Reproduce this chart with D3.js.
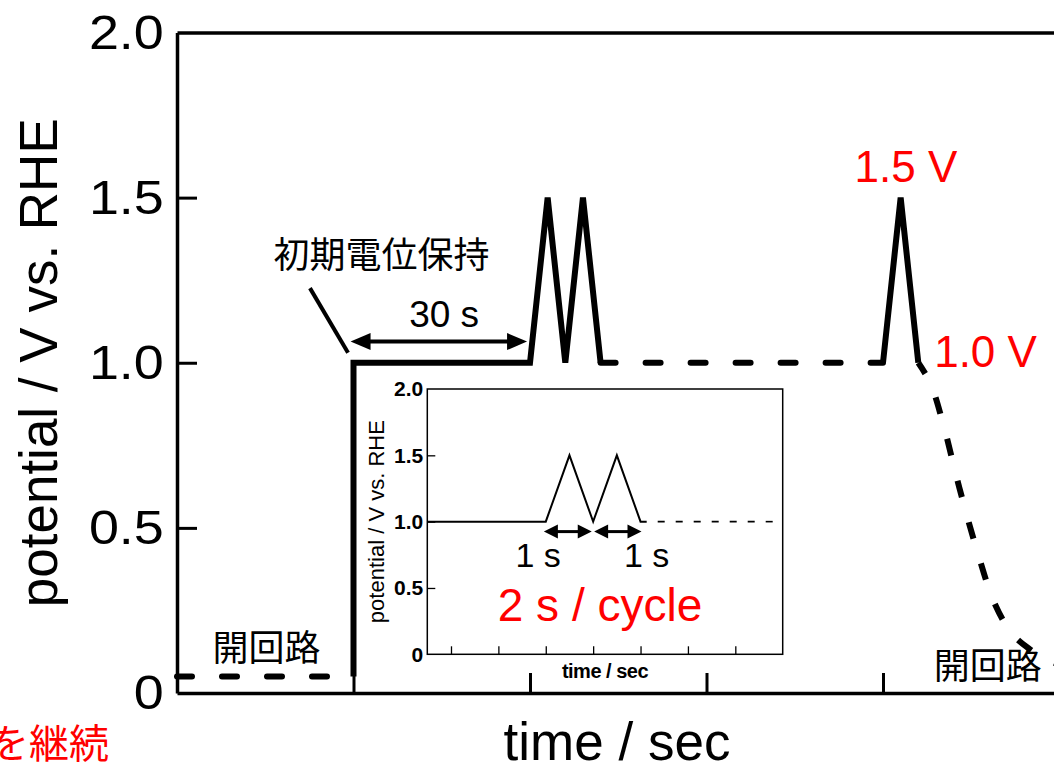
<!DOCTYPE html>
<html><head><meta charset="utf-8">
<script src="https://cdn.jsdelivr.net/npm/d3@7"></script>
<style>body{margin:0;background:#fff;} svg{display:block;}</style>
</head><body><svg id="c" width="1054" height="764"></svg>
<script>
// ---------- data (main chart, time in s, potential in V) ----------
const openCircuitT = [0, 30];
const openCircuitV = [0.05, 0.05];
const holdCycleT = [30, 30, 60, 63, 66, 69, 72];
const holdCycleV = [0.05, 1.0, 1.0, 1.5, 1.0, 1.5, 1.0];
const waitT = [72, 120];
const waitV = [1.0, 1.0];
const pulseT = [120, 123, 126];
const pulseV = [1.0, 1.5, 1.0];
const decayT = [126, 128, 130, 133, 136, 139, 142, 145, 148, 151, 154];
const decayV = [1.0, 0.94, 0.83, 0.62, 0.43, 0.27, 0.178, 0.132, 0.1, 0.08, 0.07];
const mainYTicks = [0, 0.5, 1.0, 1.5, 2.0];
const mainYTickLabels = ["0", "0.5", "1.0", "1.5", "2.0"];
const mainXTicks = [30, 60, 90, 120];

// ---------- data (inset) ----------
const insetSolidT = [-0.5, 2, 2.5, 3, 3.5, 4, 4.13];
const insetSolidV = [1, 1, 1.5, 1, 1.5, 1, 1];
const insetDashT = [4.13, 6.86];
const insetDashV = [1, 1];
const insetYTicks = [0, 0.5, 1.0, 1.5, 2.0];
const insetYTickLabels = ["0", "0.5", "1.0", "1.5", "2.0"];
const insetXTicks = [0, 1, 2, 3, 4, 5, 6];

const LATIN = "'Liberation Sans', Arial, Helvetica, sans-serif";
const CJK = "'Noto Sans CJK JP', 'Noto Sans CJK SC', sans-serif";
const RED = "#ff0000";

const svg = d3.select("#c");
const zip = (a, b) => a.map((d, i) => [d, b[i]]);

// ---------- main scales ----------
const x = d3.scaleLinear().domain([0, 150]).range([177, 1059.5]);
const y = d3.scaleLinear().domain([0, 2]).range([693, 32.5]);

const main = svg.append("g");

// axes
const yAxis = d3.axisLeft(y).tickValues(mainYTicks)
  .tickFormat((d, i) => mainYTickLabels[i])
  .tickSizeInner(-20).tickSizeOuter(0).tickPadding(12);
const gy = main.append("g").attr("transform", `translate(${x(0)},0)`).call(yAxis);
gy.select(".domain").attr("stroke-width", 3.5);
gy.selectAll(".tick line").attr("stroke-width", 3)
  .filter(d => d === 0 || d === 2).remove();
gy.selectAll(".tick text").attr("font-family", LATIN).attr("font-size", 49).attr("fill", "#000")
  .attr("transform", "scale(1.1,1)");

const xAxis = d3.axisBottom(x).tickValues(mainXTicks).tickFormat("")
  .tickSizeInner(-20).tickSizeOuter(0);
const gx = main.append("g").attr("transform", `translate(0,${y(0)})`).call(xAxis);
gx.select(".domain").attr("stroke-width", 3.5);
gx.selectAll(".tick line").attr("stroke-width", 3);

const gt = main.append("g").attr("transform", `translate(0,${y(2)})`)
  .call(d3.axisTop(x).tickValues([]).tickSizeOuter(0));
gt.select(".domain").attr("stroke-width", 3.5);

// axis titles
main.append("text").attr("transform", `translate(57,${y(1)}) rotate(-90)`)
  .attr("text-anchor", "middle").attr("font-family", LATIN).attr("font-size", 53)
  .text("potential / V vs. RHE");
main.append("text").attr("x", 617).attr("y", 760)
  .attr("text-anchor", "middle").attr("font-family", LATIN).attr("font-size", 53)
  .text("time / sec");

// lines
const line = d3.line().x(d => x(d[0])).y(d => y(d[1]));
const curve = d3.line().x(d => x(d[0])).y(d => y(d[1])).curve(d3.curveCatmullRom.alpha(0.5));
const mainLines = main.append("g").attr("fill", "none").attr("stroke", "#000").attr("stroke-width", 6);
mainLines.append("path").attr("d", line(zip(openCircuitT, openCircuitV)))
  .attr("stroke-dasharray", "15,30").attr("stroke-linecap", "round");
mainLines.append("path").attr("d", line(zip(holdCycleT, holdCycleV)))
  .attr("stroke-linejoin", "miter").attr("stroke-miterlimit", 2);
mainLines.append("path").attr("d", line(zip(waitT, waitV)))
  .attr("stroke-dasharray", "15,30").attr("stroke-linecap", "round");
mainLines.append("path").attr("d", line(zip(pulseT, pulseV)))
  .attr("stroke-linejoin", "miter").attr("stroke-miterlimit", 2);
mainLines.append("path").attr("d", curve(zip(decayT, decayV)))
  .attr("stroke-dasharray", "17,26").attr("stroke-dashoffset", 4);

// arrows
function doubleArrow(g, x1, x2, yy, headLen, headHalf, sw) {
  g.append("line").attr("x1", x1 + headLen * 0.7).attr("x2", x2 - headLen * 0.7)
    .attr("y1", yy).attr("y2", yy).attr("stroke", "#000").attr("stroke-width", sw);
  g.append("path").attr("d", `M${x1},${yy}L${x1 + headLen},${yy - headHalf}L${x1 + headLen},${yy + headHalf}Z`).attr("fill", "#000");
  g.append("path").attr("d", `M${x2},${yy}L${x2 - headLen},${yy - headHalf}L${x2 - headLen},${yy + headHalf}Z`).attr("fill", "#000");
}
doubleArrow(main, x(29.5), x(59.5), y(1.064), 20, 8.5, 4);

// annotations
main.append("line").attr("x1", x(22.6)).attr("y1", y(1.226)).attr("x2", x(29.07)).attr("y2", y(1.03))
  .attr("stroke", "#000").attr("stroke-width", 4);
main.append("text").attr("x", x(34.75)).attr("y", y(1.286)).attr("text-anchor", "middle")
  .attr("font-family", CJK).attr("font-size", 36).text("初期電位保持");
main.append("text").attr("x", x(45.4)).attr("y", y(1.108)).attr("text-anchor", "middle")
  .attr("font-family", LATIN).attr("font-size", 37).text("30 s");
main.append("text").attr("x", x(123.9)).attr("y", y(1.547)).attr("text-anchor", "middle")
  .attr("font-family", LATIN).attr("font-size", 44).attr("fill", RED).text("1.5 V");
main.append("text").attr("x", x(128.7)).attr("y", y(0.988)).attr("text-anchor", "start")
  .attr("font-family", LATIN).attr("font-size", 44).attr("fill", RED).text("1.0 V");
main.append("text").attr("x", x(15.2)).attr("y", y(0.098)).attr("text-anchor", "middle")
  .attr("font-family", CJK).attr("font-size", 36).text("開回路");
main.append("text").attr("x", x(137.8)).attr("y", y(0.042)).attr("text-anchor", "middle")
  .attr("font-family", CJK).attr("font-size", 36).text("開回路");
main.append("text").attr("x", 109).attr("y", 758).attr("text-anchor", "end")
  .attr("font-family", CJK).attr("font-size", 40).attr("fill", RED).text("を継続");

// ---------- inset ----------
const xi = d3.scaleLinear().domain([-0.5, 7]).range([427.3, 782.7]);
const yi = d3.scaleLinear().domain([0, 2]).range([654.3, 389]);
const inset = svg.append("g");
inset.append("rect").attr("x", xi(-0.5)).attr("y", yi(2))
  .attr("width", xi(7) - xi(-0.5)).attr("height", yi(0) - yi(2))
  .attr("fill", "#fff").attr("stroke", "#000").attr("stroke-width", 1.5);

const iyAxis = d3.axisLeft(yi).tickValues(insetYTicks)
  .tickFormat((d, i) => insetYTickLabels[i])
  .tickSizeInner(-8).tickSizeOuter(0).tickPadding(4);
const giy = inset.append("g").attr("transform", `translate(${xi(-0.5)},0)`).call(iyAxis);
giy.select(".domain").remove();
giy.selectAll(".tick line").attr("stroke-width", 1.3).filter(d => d === 0 || d === 2).remove();
giy.selectAll(".tick text").attr("font-family", LATIN).attr("font-size", 21)
  .attr("font-weight", "bold").attr("fill", "#000");

const ixAxis = d3.axisBottom(xi).tickValues(insetXTicks).tickFormat("")
  .tickSizeInner(-8).tickSizeOuter(0);
const gix = inset.append("g").attr("transform", `translate(0,${yi(0)})`).call(ixAxis);
gix.select(".domain").remove();
gix.selectAll(".tick line").attr("stroke-width", 1.3);

inset.append("text").attr("transform", `translate(384,${yi(1)}) rotate(-90)`)
  .attr("text-anchor", "middle").attr("font-family", LATIN).attr("font-size", 22)
  .text("potential / V vs. RHE");
inset.append("text").attr("x", 605).attr("y", 678).attr("text-anchor", "middle")
  .attr("font-family", LATIN).attr("font-size", 20).attr("font-weight", "bold")
  .attr("letter-spacing", -0.5).text("time / sec");

const iline = d3.line().x(d => xi(d[0])).y(d => yi(d[1]));
inset.append("path").attr("d", iline(zip(insetSolidT, insetSolidV)))
  .attr("fill", "none").attr("stroke", "#000").attr("stroke-width", 2);
inset.append("path").attr("d", iline(zip(insetDashT, insetDashV)))
  .attr("fill", "none").attr("stroke", "#000").attr("stroke-width", 1.6)
  .attr("stroke-dasharray", "7,11").attr("stroke-dashoffset", 7);

doubleArrow(inset, xi(1.96), xi(2.97), yi(0.925), 14, 7, 3);
doubleArrow(inset, xi(3.02), xi(4.02), yi(0.925), 14, 7, 3);

inset.append("text").attr("x", xi(1.84)).attr("y", 567).attr("text-anchor", "middle")
  .attr("font-family", LATIN).attr("font-size", 34).text("1 s");
inset.append("text").attr("x", xi(4.13)).attr("y", 567).attr("text-anchor", "middle")
  .attr("font-family", LATIN).attr("font-size", 34).text("1 s");
inset.append("text").attr("x", 600).attr("y", 621).attr("text-anchor", "middle")
  .attr("font-family", LATIN).attr("font-size", 46).attr("fill", RED).text("2 s / cycle");
</script></body></html>
